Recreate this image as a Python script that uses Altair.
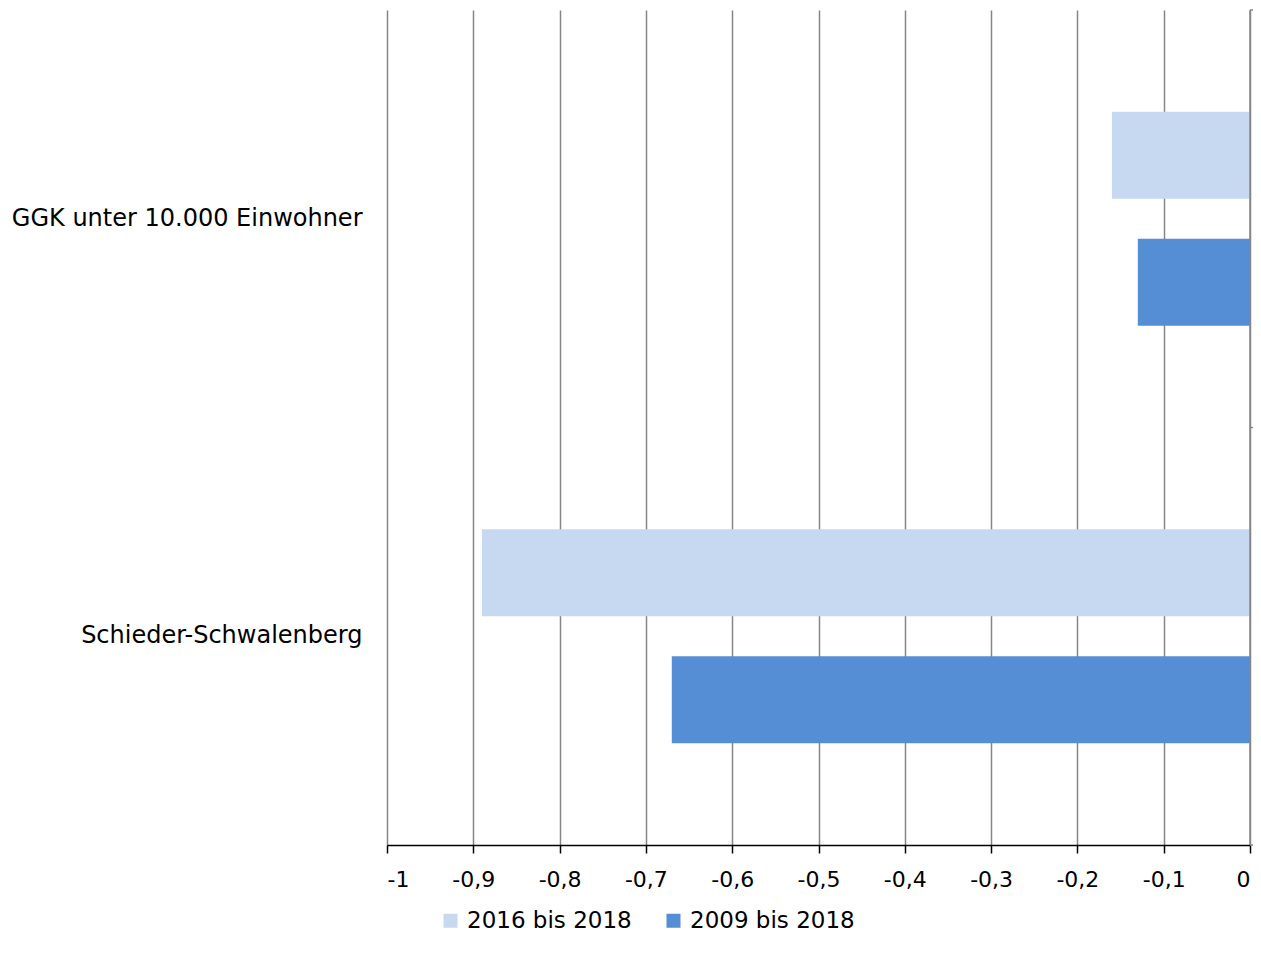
import altair as alt
import pandas as pd

categories = ["GGK unter 10.000 Einwohner", "Schieder-Schwalenberg"]
series = ["2016 bis 2018", "2009 bis 2018"]
values_2016 = [-0.16, -0.89]
values_2009 = [-0.13, -0.67]
colors = ["#C6D9F1", "#558ED5"]

rows = []
for i, c in enumerate(categories):
    rows.append({"Kategorie": c, "Zeitraum": series[0], "Wert": values_2016[i]})
    rows.append({"Kategorie": c, "Zeitraum": series[1], "Wert": values_2009[i]})
df = pd.DataFrame(rows)

font = "DejaVu Sans"
W, H = 863, 835

bars = alt.Chart(df).mark_bar().encode(
    x=alt.X("Wert:Q",
            scale=alt.Scale(domain=[-1, 0], nice=False, zero=False),
            axis=alt.Axis(values=[-1, -0.9, -0.8, -0.7, -0.6, -0.5, -0.4, -0.3, -0.2, -0.1, 0],
                          labelExpr="replace(replace(format(datum.value, '.1~f'), '.', ','), '\u2212', '-')",
                          title=None, grid=True, gridColor="#868686", gridWidth=1.5,
                          domainColor="#000000", domainWidth=1.5, tickColor="#000000",
                          tickWidth=1.5, tickSize=8, labelFontSize=22, labelColor="#000000",
                          labelFont=font, labelPadding=16)),
    y=alt.Y("Kategorie:N", sort=categories,
            scale=alt.Scale(paddingInner=0, paddingOuter=0),
            axis=alt.Axis(title=None, domain=False, ticks=False, labelFontSize=24,
                          labelColor="#000000", labelFont=font, labelPadding=25,
                          labelLimit=400)),
    yOffset=alt.YOffset("Zeitraum:N", sort=series,
                        scale=alt.Scale(paddingInner=0.315, paddingOuter=0.8)),
    color=alt.Color("Zeitraum:N", sort=series,
                    scale=alt.Scale(domain=series, range=colors),
                    legend=alt.Legend(title=None, orient="none", direction="horizontal",
                                      legendX=52, legendY=899, symbolType="square",
                                      symbolSize=196, symbolStrokeWidth=0,
                                      labelFontSize=23, labelFont=font, labelColor="#000000",
                                      labelLimit=300, columnPadding=30, labelOffset=5)),
)

right_df = pd.DataFrame({"x": [0]})
right_line = alt.Chart(right_df).mark_rule(color="#868686", strokeWidth=1.5).encode(
    x=alt.value(W), y=alt.value(0), y2=alt.value(H)
)
tick_df = pd.DataFrame({"yy": [0, H / 2, H]})
right_ticks = alt.Chart(tick_df).mark_rule(color="#868686", strokeWidth=1.5).encode(
    x=alt.value(W), x2=alt.value(W + 3), y=alt.Y("yy:Q", scale=None)
)

chart = alt.layer(bars, right_line, right_ticks).properties(
    width=W, height=H,
    autosize=alt.AutoSizeParams(type="none"),
    padding={"left": 379, "top": 2, "right": 3, "bottom": 90},
).configure_view(stroke=None)

chart.save("out.html", embed_options={"renderer": "svg", "actions": False})
